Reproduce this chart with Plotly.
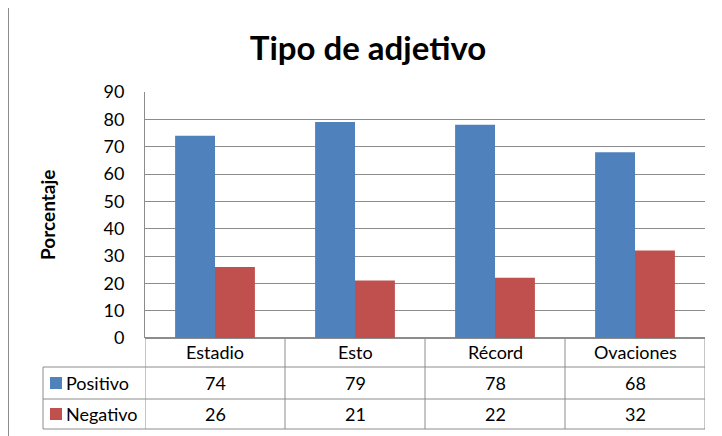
import plotly.graph_objects as go

# Datos del gráfico
categorias = ["Estadio", "Esto", "Récord", "Ovaciones"]
positivo = [74, 79, 78, 68]
negativo = [26, 21, 22, 32]
series = [("Positivo", positivo, "#4F81BD"), ("Negativo", negativo, "#C0504D")]

FONT = "Lato"
GRIS = "#8c8c8c"

# ── Geometría (px de la imagen de referencia) ────────────────────────────────
# la página html deja 8 px de margen en el body
OFF = 8
W, H = 722 - OFF, 436 - OFF
L, R, T, B = 145 - OFF, 17, 92 - OFF, 98
pw, ph = W - L - R, H - T - B


def px_x(p):
    return (p - OFF - L) / pw


def px_y(p):
    return (H - B - (p - OFF)) / ph


fig = go.Figure()
for nombre, vals, color in series:
    fig.add_trace(go.Bar(
        x=categorias, y=vals, name=nombre,
        marker=dict(color=color, line=dict(width=0)),
    ))

shapes = []
annotations = []

# Marco exterior del gráfico
shapes.append(dict(type="rect", xref="paper", yref="paper",
                   x0=px_x(8), x1=px_x(740), y0=px_y(7), y1=px_y(460),
                   line=dict(color=GRIS, width=2), layer="below"))

# ── Tabla de datos ───────────────────────────────────────────────────────────
fila_y = [352, 383, 414]
lineas_h = [367, 399, 429]
x_izq = px_x(43)

for y in lineas_h:
    shapes.append(dict(type="line", xref="paper", yref="paper",
                       x0=x_izq, x1=1, y0=px_y(y), y1=px_y(y),
                       line=dict(color=GRIS, width=1)))
shapes.append(dict(type="line", xref="paper", yref="paper",
                   x0=x_izq, x1=x_izq, y0=px_y(367), y1=px_y(429),
                   line=dict(color=GRIS, width=1)))
for i in range(len(categorias) + 1):
    shapes.append(dict(type="line", xref="x", yref="paper",
                       x0=i - 0.5, x1=i - 0.5, y0=0, y1=px_y(429),
                       line=dict(color=GRIS, width=1)))

for cat in categorias:
    annotations.append(dict(x=cat, xref="x", y=px_y(fila_y[0]), yref="paper",
                            text=cat, showarrow=False,
                            xanchor="center", yanchor="middle",
                            font=dict(size=18, color="#000000")))

for k, (nombre, vals, color) in enumerate(series):
    yc = fila_y[k + 1]
    shapes.append(dict(type="rect", xref="paper", yref="paper",
                       x0=px_x(50), x1=px_x(62), y0=px_y(yc - 6), y1=px_y(yc + 6),
                       fillcolor=color, line=dict(width=0)))
    annotations.append(dict(x=px_x(64), xref="paper", y=px_y(yc), yref="paper",
                            text=nombre, showarrow=False,
                            xanchor="left", yanchor="middle",
                            font=dict(size=18, color="#000000")))
    for cat, v in zip(categorias, vals):
        annotations.append(dict(x=cat, xref="x", y=px_y(yc), yref="paper",
                                text=str(v), showarrow=False,
                                xanchor="center", yanchor="middle",
                                font=dict(size=18, color="#000000")))

# Título del eje Y
annotations.append(dict(x=px_x(47), xref="paper", y=px_y(215), yref="paper",
                        text="<b>Porcentaje</b>", showarrow=False, textangle=-90,
                        xanchor="center", yanchor="middle",
                        font=dict(size=19, color="#000000")))

fig.update_layout(
    width=W, height=H,
    title=dict(text="<b>Tipo de adjetivo</b>", x=(368 - OFF) / W, xanchor="center",
               y=1 - (48 - OFF) / H, yanchor="middle",
               font=dict(size=33, color="#000000", family=FONT)),
    font=dict(family=FONT, size=16, color="#000000"),
    barmode="group", bargap=0.43, bargroupgap=0,
    showlegend=False,
    plot_bgcolor="white", paper_bgcolor="white",
    margin=dict(l=L, r=R, t=T, b=B),
    shapes=shapes, annotations=annotations,
)
fig.update_xaxes(showticklabels=False, ticks="", showgrid=False,
                 range=[-0.5, len(categorias) - 0.5], showline=False)
fig.update_yaxes(range=[0, 90], dtick=10, showgrid=True, gridcolor=GRIS,
                 gridwidth=1, zeroline=True, zerolinecolor=GRIS,
                 showline=True, linecolor=GRIS, ticks="", ticklabelstandoff=16,
                 tickfont=dict(size=18, color="#000000"))

fig.write_html("out.html")
